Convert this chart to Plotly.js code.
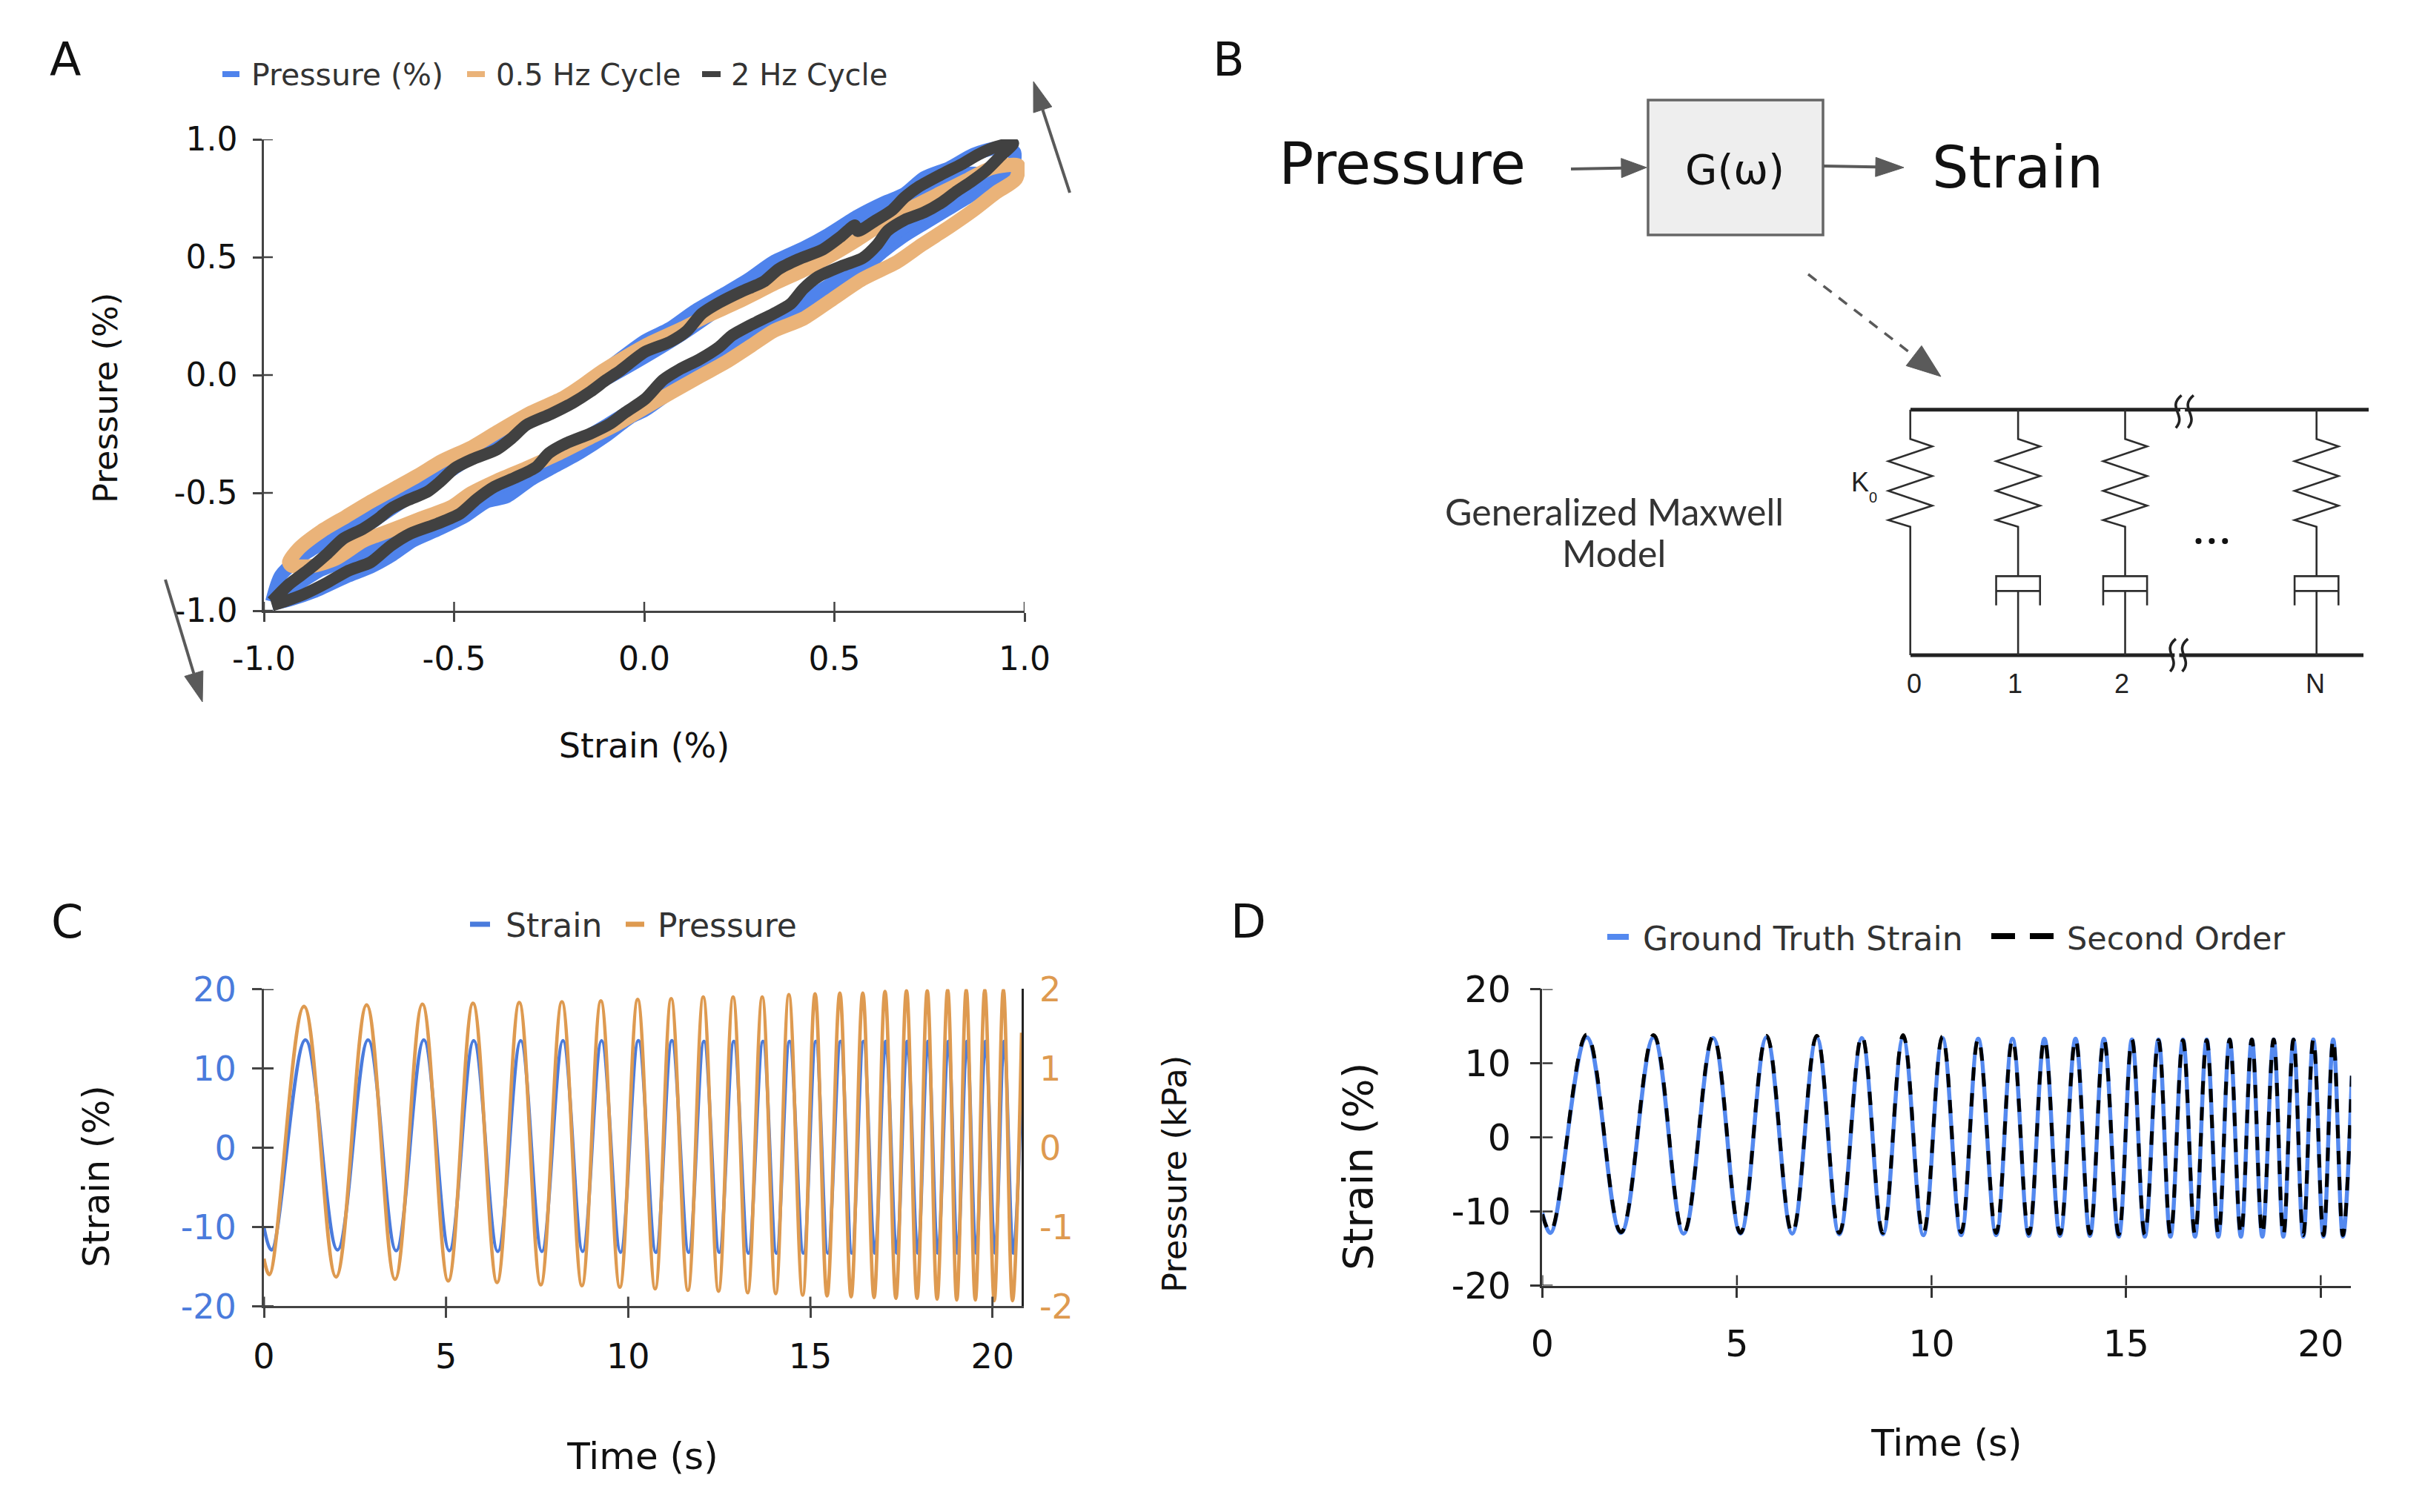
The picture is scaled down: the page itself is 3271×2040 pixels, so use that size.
<!DOCTYPE html>
<html>
<head>
<meta charset="utf-8">
<script src="https://cdn.plot.ly/plotly-3.0.1.min.js"></script>
<style>html,body{margin:0;padding:0;background:#fff}#chart{width:3271px;height:2040px}</style>
</head>
<body>
<div id="chart"></div>
<script>
// ---------- Panel A: hysteresis loops (strain, pressure) ----------
const orangeX = [-0.934,-0.908,-0.849,-0.784,-0.719,-0.654,-0.596,-0.531,-0.453,-0.388,-0.297,-0.212,-0.154,-0.108,0.002,0.099,0.164,0.249,0.340,0.424,0.496,0.561,0.626,0.704,0.782,0.847,0.912,0.983,0.977,0.925,0.866,0.801,0.730,0.665,0.574,0.496,0.418,0.340,0.281,0.216,0.145,0.002,-0.076,-0.141,-0.232,-0.310,-0.394,-0.459,-0.505,-0.589,-0.674,-0.739,-0.810,-0.869,-0.927,-0.934];
const orangeY = [-0.794,-0.736,-0.662,-0.600,-0.537,-0.479,-0.427,-0.364,-0.306,-0.243,-0.159,-0.096,-0.034,0.019,0.124,0.197,0.250,0.312,0.386,0.449,0.512,0.575,0.643,0.711,0.774,0.826,0.878,0.889,0.831,0.774,0.700,0.627,0.553,0.480,0.407,0.323,0.239,0.187,0.124,0.056,-0.007,-0.138,-0.212,-0.264,-0.338,-0.395,-0.453,-0.505,-0.558,-0.610,-0.663,-0.704,-0.778,-0.809,-0.809,-0.794];
const darkX = [-0.979,-0.934,-0.882,-0.836,-0.791,-0.739,-0.700,-0.667,-0.622,-0.570,-0.537,-0.498,-0.453,-0.388,-0.349,-0.310,-0.245,-0.187,-0.141,-0.102,-0.063,0.002,0.067,0.112,0.151,0.197,0.255,0.314,0.353,0.405,0.470,0.515,0.554,0.561,0.606,0.652,0.684,0.723,0.782,0.834,0.879,0.925,0.970,0.938,0.899,0.860,0.821,0.782,0.736,0.684,0.639,0.613,0.574,0.522,0.457,0.418,0.385,0.340,0.281,0.229,0.197,0.145,0.093,0.050,0.002,-0.050,-0.089,-0.141,-0.206,-0.251,-0.284,-0.342,-0.394,-0.440,-0.485,-0.544,-0.615,-0.667,-0.719,-0.778,-0.836,-0.895,-0.947,-0.979];
const darkY = [-0.961,-0.888,-0.825,-0.762,-0.694,-0.652,-0.610,-0.568,-0.531,-0.495,-0.453,-0.395,-0.358,-0.316,-0.269,-0.212,-0.165,-0.117,-0.070,-0.023,0.019,0.098,0.140,0.187,0.260,0.307,0.354,0.396,0.449,0.491,0.533,0.585,0.635,0.611,0.653,0.700,0.753,0.800,0.852,0.894,0.936,0.968,0.983,0.931,0.868,0.821,0.779,0.732,0.690,0.658,0.611,0.554,0.496,0.464,0.417,0.365,0.302,0.260,0.213,0.166,0.119,0.066,0.024,-0.020,-0.102,-0.159,-0.206,-0.248,-0.290,-0.332,-0.390,-0.437,-0.474,-0.526,-0.589,-0.631,-0.673,-0.725,-0.794,-0.830,-0.883,-0.930,-0.961,-0.977];
const blueAX = [-0.979,-0.956,-0.895,-0.836,-0.765,-0.700,-0.641,-0.570,-0.498,-0.427,-0.362,-0.284,-0.199,-0.141,0.002,0.067,0.132,0.210,0.275,0.340,0.418,0.483,0.561,0.632,0.684,0.736,0.801,0.866,0.925,0.973,0.970,0.925,0.860,0.795,0.730,0.678,0.626,0.567,0.496,0.444,0.385,0.314,0.262,0.210,0.164,0.002,-0.037,-0.102,-0.167,-0.232,-0.297,-0.362,-0.414,-0.472,-0.544,-0.609,-0.661,-0.719,-0.784,-0.869,-0.927,-0.979];
const blueAY = [-0.961,-0.851,-0.762,-0.704,-0.636,-0.579,-0.516,-0.458,-0.369,-0.322,-0.259,-0.180,-0.102,-0.028,0.145,0.197,0.271,0.344,0.407,0.480,0.538,0.595,0.674,0.732,0.768,0.837,0.878,0.936,0.962,0.947,0.889,0.816,0.763,0.700,0.637,0.585,0.522,0.438,0.375,0.312,0.244,0.187,0.145,0.087,0.040,-0.149,-0.180,-0.259,-0.327,-0.385,-0.442,-0.516,-0.537,-0.600,-0.657,-0.704,-0.762,-0.814,-0.856,-0.919,-0.951,-0.972];
const blueBX = [-0.934,-0.849,-0.765,-0.687,-0.500,-0.300,-0.100,0.050,0.229,0.288,0.366,0.444,0.509,0.587,0.652,0.717,0.782,0.847,0.912,0.847,0.736,0.684,0.500,0.300,0.100,-0.100,-0.300,-0.500,-0.700,-0.850,-0.934];
const blueBY = [-0.914,-0.830,-0.778,-0.715,-0.590,-0.400,-0.210,-0.060,0.134,0.197,0.260,0.344,0.407,0.480,0.585,0.664,0.732,0.789,0.847,0.858,0.768,0.740,0.560,0.390,0.170,-0.020,-0.190,-0.400,-0.610,-0.800,-0.914];
const unitTicks = [-1,-0.5,0,0.5,1];
const unitLabels = ['-1.0','-0.5','0.0','0.5','1.0'];

// ---------- Panels C and D: turning points of the sweep ----------
const strainT = [0,0.21,1.14,2.02,2.86,3.63,4.39,5.09,5.76,6.42,7.05,7.63,8.21,8.75,9.27,9.79,10.28,10.76,11.2,11.66,12.08,12.5,12.9,13.3,13.7,14.07,14.43,14.81,15.15,15.48,15.83,16.14,16.46,16.77,17.07,17.37,17.66,17.95,18.23,18.5,18.79,19.04,19.3,19.55,19.81,20.07,20.32,20.57,20.8];
const strainY = [-10,-12.9,13.6,-12.9,13.6,-13,13.6,-13,13.5,-13.1,13.5,-13.1,13.5,-13.1,13.5,-13.2,13.5,-13.2,13.5,-13.2,13.4,-13.2,13.4,-13.3,13.4,-13.3,13.4,-13.3,13.4,-13.3,13.4,-13.3,13.4,-13.3,13.4,-13.3,13.4,-13.3,13.4,-13.3,13.4,-13.3,13.4,-13.3,13.4,-13.3,13.4,-13.3,8.3];
const pressureT = [0,0.15,1.10,1.98,2.82,3.60,4.35,5.06,5.74,6.40,7.01,7.60,8.18,8.73,9.25,9.77,10.26,10.74,11.18,11.64,12.06,12.48,12.88,13.28,13.68,14.05,14.41,14.79,15.13,15.46,15.81,16.12,16.44,16.75,17.05,17.35,17.64,17.93,18.21,18.48,18.77,19.02,19.28,19.53,19.79,20.05,20.30,20.55,20.8];
const pressureY = [-1.4,-1.6,1.78,-1.63,1.8,-1.66,1.81,-1.68,1.82,-1.7,1.83,-1.73,1.84,-1.74,1.85,-1.76,1.87,-1.78,1.88,-1.8,1.9,-1.81,1.9,-1.83,1.9,-1.84,1.93,-1.86,1.94,-1.87,1.95,-1.88,1.95,-1.89,1.97,-1.9,1.98,-1.9,1.98,-1.91,1.99,-1.92,1.99,-1.92,1.99,-1.93,1.99,-1.93,1.45];
const truthY = [-10.2,-12.9,13.5,-12.9,13.5,-13,13.4,-13,13.5,-13,13.5,-13.1,13.4,-13.1,13.4,-13.2,13.4,-13.2,13.3,-13.2,13.3,-13.3,13.3,-13.3,13.3,-13.3,13.3,-13.4,13.2,-13.4,13.2,-13.4,13.2,-13.4,13.2,-13.4,13.2,-13.4,13.2,-13.4,13.2,-13.4,13.2,-13.4,13.2,-13.4,13.2,-13.4,8.3];
const secondY = [-10.4,-12.7,13.85,-12.8,13.8,-12.9,13.6,-12.9,13.7,-12.9,13.7,-12.9,13.7,-12.9,13.8,-12.9,13.6,-12.8,13.3,-12.9,13.2,-13,13.2,-13,13.2,-13,13.2,-13.1,13.2,-13.1,13.1,-13.1,13.1,-13.1,13.1,-13.1,13.2,-13.1,13.2,-13.1,13.2,-13.2,13.2,-13.2,13.2,-13.2,13.2,-13.2,8.3];
const timeTicks = [0,5,10,15,20];
const timeLabels = ['0','5','10','15','20'];
const strainTicks = [-20,-10,0,10,20];
const strainLabels = ['-20','-10','0','10','20'];
const kpaTicks = [-2,-1,0,1,2];
const kpaLabels = ['-2','-1','0','1','2'];

// ---------- Styling ----------
const W = 3271, H = 2040;
const SANS = '"DejaVu Sans", sans-serif';
const BLUE_A='#4F83EC', ORANGE_A='#EAB379', DARK_A='#414141';
const BLUE_C='#4A7BDC', ORANGE_C='#DE9A50';
const BLUE_D='#5489EF';
const GREY='#5A5A5A', INK='#2E2E2E';
const px = x => x / W;
const py = y => 1 - y / H;

const traces = [];
const line = (x,y,xa,ya,color,width,extra) => traces.push({
  x, y, xaxis:xa, yaxis:ya, type:'scatter', mode:'lines', showlegend:false, hoverinfo:'skip',
  line:Object.assign({color, width}, extra||{})
});
const loopShape = {shape:'spline',smoothing:0.7};
line(blueAX,blueAY,'x','y',BLUE_A,18,loopShape);
line(blueBX,blueBY,'x','y',BLUE_A,16,loopShape);
line(orangeX,orangeY,'x','y',ORANGE_A,19,loopShape);
line(darkX,darkY,'x','y',DARK_A,16,loopShape);
line(strainT,strainY,'x2','y2',BLUE_C,4.5,{shape:'spline',smoothing:1.1});
line(pressureT,pressureY,'x2','y3',ORANGE_C,4.7,{shape:'spline',smoothing:1.1});
line(strainT,truthY,'x3','y4',BLUE_D,5.5,{shape:'spline',smoothing:1.1});
line(strainT,secondY,'x3','y4','#000000',5,{shape:'spline',smoothing:1.1,dash:'18px,17px'});

const shapes = [], annotations = [];
const note = (text,x,y,size,o) => annotations.push(Object.assign({
  text, x:px(x), y:py(y), xref:'paper', yref:'paper', showarrow:false,
  xanchor:'center', yanchor:'middle', font:{family:SANS,size,color:'#111'}
}, o||{}));
const seg = (x0,y0,x1,y1,color,width,dash) => shapes.push({
  type:'line', xref:'paper', yref:'paper', x0:px(x0), y0:py(y0), x1:px(x1), y1:py(y1),
  line:{color,width,dash:dash||'solid'}
});
const path = (d,color,width,fill) => shapes.push({
  type:'path', xref:'paper', yref:'paper', path:d,
  line:{color,width}, fillcolor:fill||'rgba(0,0,0,0)'
});
const poly = pts => pts.map((p,i)=>(i?'L':'M')+px(p[0])+','+py(p[1])).join(' ');
const arrow = (x0,y0,x1,y1,hl,hw,width,dash) => {
  const d = Math.hypot(x1-x0,y1-y0), ux=(x1-x0)/d, uy=(y1-y0)/d;
  const bx=x1-ux*hl, by=y1-uy*hl;
  seg(x0,y0,bx,by,GREY,width,dash);
  path(poly([[x1,y1],[bx-uy*hw/2,by+ux*hw/2],[bx+uy*hw/2,by-ux*hw/2]])+' Z',GREY,1,GREY);
};
// The half of each crossing tick that lies inside the plot
const crossX = (vals,xa,ya,anchor,len,color,w) => vals.forEach(v=>shapes.push({
  type:'line', xref:xa, yref:ya, ysizemode:'pixel', yanchor:anchor, x0:v, x1:v, y0:0, y1:len, line:{color,width:w}
}));
const crossY = (vals,xa,ya,anchor,len,color,w) => vals.forEach(v=>shapes.push({
  type:'line', xref:xa, yref:ya, xsizemode:'pixel', xanchor:anchor, y0:v, y1:v, x0:0, x1:len, line:{color,width:w}
}));

// Panel letters
note('A',88,81,62); note('B',1657,81,62); note('C',90,1243,62); note('D',1684,1243,62);

// Legends
const legendText = (t,x,y,size) => note(t,x,y,size,{xanchor:'left',font:{family:SANS,size,color:'#333'}});
const swatch = (x0,x1,y,color,w) => seg(x0,y,x1,y,color,w);
swatch(300,323,100,BLUE_A,8);   legendText('Pressure (%)',337,101,41);
swatch(630,654,100,ORANGE_A,8); legendText('0.5 Hz Cycle',667,101,40);
swatch(947,972,100,DARK_A,8);   legendText('2 Hz Cycle',984,101,40);
swatch(634,661,1247,BLUE_C,7);  legendText('Strain',680,1248,44);
swatch(844,869,1247,ORANGE_C,7);legendText('Pressure',885,1248,44);
swatch(2168,2197,1264,BLUE_D,8);legendText('Ground Truth Strain',2214,1266,44);
swatch(2686,2718,1263,'#000',8); swatch(2738,2770,1263,'#000',8);
legendText('Second Order',2786,1266,43);

// Rotated axis titles
note('Pressure (%)',143,537,45,{textangle:-90});
note('Strain (%)',130,1587,49,{textangle:-90});
note('Pressure (kPa)',1584,1584,45,{textangle:-90});
note('Strain (%)',1831,1574,56,{textangle:-90});

// Panel A direction arrows
arrow(1443,260,1394,110,40,26,4);
arrow(223,782,273,947,40,26,4);

// Panel B block diagram
note('Pressure',1891,221,78);
note('Strain',2721,226,78);
path(poly([[2223,135],[2459,135],[2459,317],[2223,317]])+' Z','#666',3.5,'#EEEEEE');
note('G(ω)',2340,228,56);
arrow(2119,228,2221,226,34,26,4);
arrow(2460,224,2568,226,38,26,4);
arrow(2439,370,2618,508,46,34,3.5,'14px,12px');
const LATO='Lato, sans-serif';
note('Generalized Maxwell',2177,690,50,{font:{family:LATO,size:50,color:'#333'}});
note('Model',2177,746,50,{font:{family:LATO,size:50,color:'#333'}});

// Panel B Maxwell circuit
const INKW = 2.6, fx = v => 2440 + v/1.96, fy = v => 500 + v/3;
seg(2577,552.7,3195,552.7,'#222',5);
seg(2577,884,3188,884,'#222',5);
[268,553,836,1342].forEach((b,i)=>{
  const zig=[[b,158],[b,277],[b+58,307],[b-58,367],[b+58,427],[b-58,487],[b+58,547],[b-58,605],[b,632]];
  if(i===0){ zig.push([b,1152]); }
  else { zig.push([b,832]); }
  path(poly(zig.map(p=>[fx(p[0]),fy(p[1])])),INK,INKW);
  if(i>0){
    path(poly([[b-58,950],[b-58,832],[b+58,832],[b+58,950]].map(p=>[fx(p[0]),fy(p[1])])),INK,INKW);
    seg(fx(b-58),fy(892),fx(b+58),fy(892),INK,INKW);
    seg(fx(b),fy(892),fx(b),fy(1152),INK,INKW);
  }
});
const breakMark = (a,top) => {
  const c = q => px(fx(q[0]))+','+py(fy(q[1]));
  shapes.push({type:'rect',xref:'paper',yref:'paper',x0:px(fx(a+12)),x1:px(fx(a+24)),y0:py(fy(top+66+10)),y1:py(fy(top+66-10)),fillcolor:'#fff',line:{width:0}});
  [0,32].forEach(off=>{
    const s=[a+15+off,top], c1=[a-25+off,top+50], c2=[a+30+off,top+80], e=[a+off,top+132];
    path('M'+c(s)+' C'+c(c1)+' '+c(c2)+' '+c(e),'#222',3.6);
  });
};
breakMark(970,100); breakMark(955,1086);
[1030,1065,1100].forEach(v=>shapes.push({type:'circle',xref:'paper',yref:'paper',
  x0:px(fx(v)-4),x1:px(fx(v)+4),y0:py(730-4),y1:py(730+4),fillcolor:'#111',line:{width:0}}));
const NARROW='"Liberation Sans", sans-serif';
note('K',2509,650,36,{font:{family:NARROW,size:36,color:'#222'}});
note('0',2526,671,20,{font:{family:NARROW,size:20,color:'#222'}});
note('0',2582,923,36,{font:{family:NARROW,size:36,color:'#222'}});
note('1',2718,923,36,{font:{family:NARROW,size:36,color:'#222'}});
note('2',2862,923,36,{font:{family:NARROW,size:36,color:'#222'}});
note('N',3123,923,36,{font:{family:NARROW,size:36,color:'#222'}});

// Inner tick halves
crossX(unitTicks,'x','y',-1,12,'#444',2.5);
crossY(unitTicks,'x','y',-1,12,'#444',2.5);
crossX(timeTicks,'x2','y2',-20,13,'#444',3);
crossY(strainTicks,'x2','y2',0,13,'#444',3);
crossX(timeTicks,'x3','y4',-20,14,'#333',2.5);
crossY(strainTicks,'x3','y4',0,14,'#333',2.5);

const axisBase = (o) => Object.assign({
  showgrid:false, zeroline:false, showline:true, fixedrange:true, automargin:false,
  ticks:'outside', tickmode:'array', tickcolor:'#444', linecolor:'#444'
}, o);

const layout = {
  width:W, height:H, autosize:false, showlegend:false,
  margin:{l:0,r:0,t:0,b:0,pad:0},
  paper_bgcolor:'#fff', plot_bgcolor:'rgba(0,0,0,0)',
  font:{family:SANS,color:'#111'},
  // Panel A
  xaxis:axisBase({domain:[px(356),px(1382)],anchor:'y',range:[-1,1],tickvals:unitTicks,ticktext:unitLabels,
    ticklen:12,tickwidth:2.5,linewidth:2.5,tickfont:{family:SANS,size:44,color:'#111'},ticklabelstandoff:12,
    title:{text:'Strain (%)',font:{family:SANS,size:46,color:'#111'},standoff:78}}),
  yaxis:axisBase({domain:[py(824),py(188)],anchor:'x',range:[-1,1],tickvals:unitTicks,ticktext:unitLabels,
    ticklen:12,tickwidth:2.5,linewidth:2.5,tickfont:{family:SANS,size:44,color:'#111'},ticklabelstandoff:12}),
  // Panel C
  xaxis2:axisBase({domain:[px(356),px(1378)],anchor:'y2',range:[0,20.8],tickvals:timeTicks,ticktext:timeLabels,
    ticklen:13,tickwidth:3,linewidth:3,tickfont:{family:SANS,size:46,color:'#111'},ticklabelstandoff:12,
    title:{text:'Time (s)',font:{family:SANS,size:50,color:'#111'},standoff:92}}),
  yaxis2:axisBase({domain:[py(1762.4),py(1334.4)],anchor:'x2',range:[-20,20],tickvals:strainTicks,ticktext:strainLabels,
    ticklen:13,tickwidth:3,linewidth:3,tickfont:{family:SANS,size:46,color:BLUE_C},ticklabelstandoff:12}),
  yaxis3:axisBase({domain:[py(1762.4),py(1334.4)],anchor:'x2',overlaying:'y2',side:'right',range:[-2,2],
    tickvals:kpaTicks,ticktext:kpaLabels,ticks:'',linewidth:2.5,linecolor:'#222',
    tickfont:{family:SANS,size:46,color:ORANGE_C},ticklabelstandoff:12}),
  // Panel D
  xaxis3:axisBase({domain:[px(2080.4),px(3171.3)],anchor:'y4',range:[0,20.78],tickvals:timeTicks,ticktext:timeLabels,
    ticklen:14,tickwidth:2.5,linewidth:2.5,tickcolor:'#333',linecolor:'#333',tickfont:{family:SANS,size:49,color:'#111'},ticklabelstandoff:20,
    title:{text:'Time (s)',font:{family:SANS,size:50,color:'#111'},standoff:88}}),
  yaxis4:axisBase({domain:[py(1734.5),py(1334.4)],anchor:'x3',range:[-20,20],tickvals:strainTicks,ticktext:strainLabels,
    ticklen:14,tickwidth:2.5,linewidth:2.5,tickcolor:'#333',linecolor:'#333',tickfont:{family:SANS,size:49,color:'#111'},ticklabelstandoff:16}),
  shapes, annotations
};
Plotly.newPlot('chart',traces,layout,{displayModeBar:false,responsive:false});
</script>
</body>
</html>
